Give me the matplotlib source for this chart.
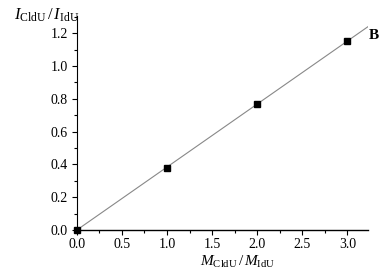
import numpy as np
import matplotlib
from matplotlib import pyplot as plt
from matplotlib.ticker import MultipleLocator

ratio_mass = [0.0, 1.0, 2.0, 3.0]
ratio_intensity = [0.0, 0.38, 0.77, 1.15]
xticks = [0.0, 0.5, 1.0, 1.5, 2.0, 2.5, 3.0]
yticks = [0.0, 0.2, 0.4, 0.6, 0.8, 1.0, 1.2]


def main():
  matplotlib.rc('font', family='Liberation Serif', size=10)
  matplotlib.rc('mathtext', fontset='custom', rm='Liberation Serif', it='Liberation Serif:italic')

  fig = plt.figure(figsize=(3.9, 2.7), dpi=100)
  ax = fig.add_axes([0.197, 0.148, 0.747, 0.793])

  slope = np.polyfit(ratio_mass, ratio_intensity, 1)[0]
  xfit = np.array([0.0, 3.25])
  ax.plot(xfit, slope * xfit, color='#888888', lw=0.8)
  ax.plot(ratio_mass, ratio_intensity, 's', color='black', ms=4.5, clip_on=False)

  ax.set_xlim(0, 3.23)
  ax.set_ylim(0, 1.305)
  ax.set_xticks(xticks)
  ax.set_yticks(yticks)
  ax.set_xticklabels(['{:.1f}'.format(v) for v in xticks])
  ax.set_yticklabels(['{:.1f}'.format(v) for v in yticks])
  ax.xaxis.set_minor_locator(MultipleLocator(0.25))
  ax.yaxis.set_minor_locator(MultipleLocator(0.1))
  ax.tick_params(which='both', direction='out', width=0.8, colors='black')
  ax.tick_params(which='major', length=3.5)
  ax.tick_params(axis='x', which='major', pad=2)
  ax.tick_params(axis='y', which='major', pad=3)
  ax.tick_params(which='minor', length=2)
  for s in ['top', 'right']:
    ax.spines[s].set_visible(False)
  ax.spines['left'].set_linewidth(0.8)
  ax.spines['bottom'].set_linewidth(1.0)

  fig.text(0.035, 0.975, r'$I_{\mathrm{CldU}}\,/\,I_{\mathrm{IdU}}$', fontsize=12, va='top', ha='left')
  fig.text(0.61, 0.0, r'$M_{\mathrm{CldU}}\,/\,M_{\mathrm{IdU}}$', fontsize=11, va='bottom', ha='center')
  fig.text(0.945, 0.87, 'B', fontsize=11, fontweight='bold', va='center', ha='left')

  fig.savefig('out.png', dpi=100)


if __name__ == '__main__':
  main()
